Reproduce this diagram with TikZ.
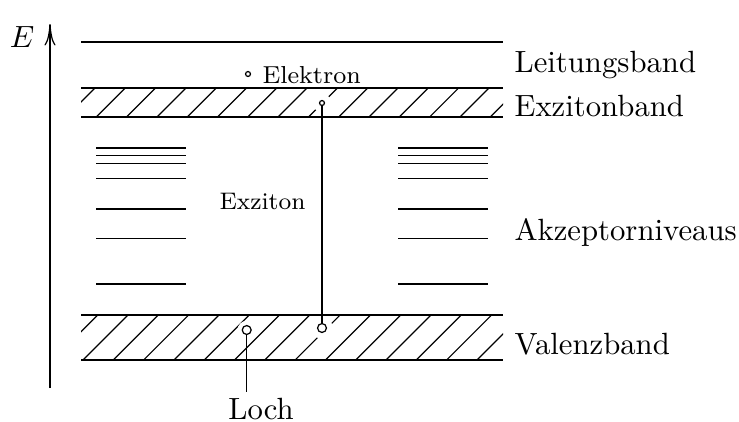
\documentclass[tikz,border=0pt]{standalone}
\usetikzlibrary{arrows.meta}
\tikzset{
  bandline/.style={line width=0.5pt},
  hatchline/.style={line width=0.4pt},
  levelline/.style={line width=0.45pt},
  dotnode/.style={circle,draw,fill=white,line width=0.4pt,inner sep=0pt,minimum size=#1},
  gapnode/.style={circle,fill=white,inner sep=0pt,minimum size=#1},
  lbl/.style={anchor=base west,inner sep=0pt},
}

\begin{document}
\begin{tikzpicture}[x=0.3257pt,y=-0.3257pt]
  \useasboundingbox (0,0) rectangle (739,421);
  % energy axis
  \coordinate (Ebot) at (50,388);
  \coordinate (Etop) at (50,24);
  \draw[line width=0.4pt,-{To[length=7pt,width=3.6pt]}] (Ebot) -- (Etop);
  \node (Elbl) at (22,37) {$E$};
  % conduction band edge
  \draw[bandline] (81,42) -- (503,42);
  % hatched bands
  \foreach \ytop/\ybot/\off in {88/117/96.3, 315/360/83} {
    \begin{scope}
      \clip (81,\ytop) rectangle (503,\ybot);
      \pgfmathsetmacro{\h}{\ybot-\ytop}
      \foreach \k in {-3,...,15}
        \draw[hatchline] (\off+30.3*\k,\ybot) -- ++(\h,-\h);
    \end{scope}
    \draw[bandline] (81,\ytop) -- (503,\ytop);
    \draw[bandline] (81,\ybot) -- (503,\ybot);
  }
  % acceptor levels
  \foreach \y in {148,155.7,163.3,178.3,209,238.3,284} {
    \draw[levelline] (96,\y) -- (186,\y);
    \draw[levelline] (398,\y) -- (488,\y);
  }
  % particles
  \node[gapnode=6pt] at (322,103) {};
  \node[gapnode=7pt] at (322,328) {};
  \node[gapnode=6pt] at (246.7,330) {};
  \node[dotnode=1.6pt] (eFree) at (248,74) {};
  \node[dotnode=1.6pt] (eExc) at (322,103) {};
  \node[dotnode=2.9pt] (hExc) at (322,328) {};
  \node[dotnode=2.9pt] (hLoch) at (246.7,330) {};
  \coordinate (lochEnd) at (246.7,392);
  \draw[line width=0.4pt] (eExc) -- (hExc);
  \draw[line width=0.4pt] (hLoch) -- (lochEnd);
  % labels
  \node[lbl,font=\footnotesize] (elektron) at (262,83) {Elektron};
  \node[lbl,font=\fontsize{7.8}{9}\selectfont] (exziton) at (219,209) {Exziton};
  \node[anchor=base,inner sep=0pt] (loch) at (261,419) {Loch};
  \node[lbl] (leitung) at (514,72) {Leitungsband};
  \node[lbl] (exzband) at (514,116) {Exzitonband};
  \node[lbl] (akzept) at (514,240) {Akzeptorniveaus};
  \node[lbl] (valenz) at (514,354) {Valenzband};
\end{tikzpicture}
\end{document}
